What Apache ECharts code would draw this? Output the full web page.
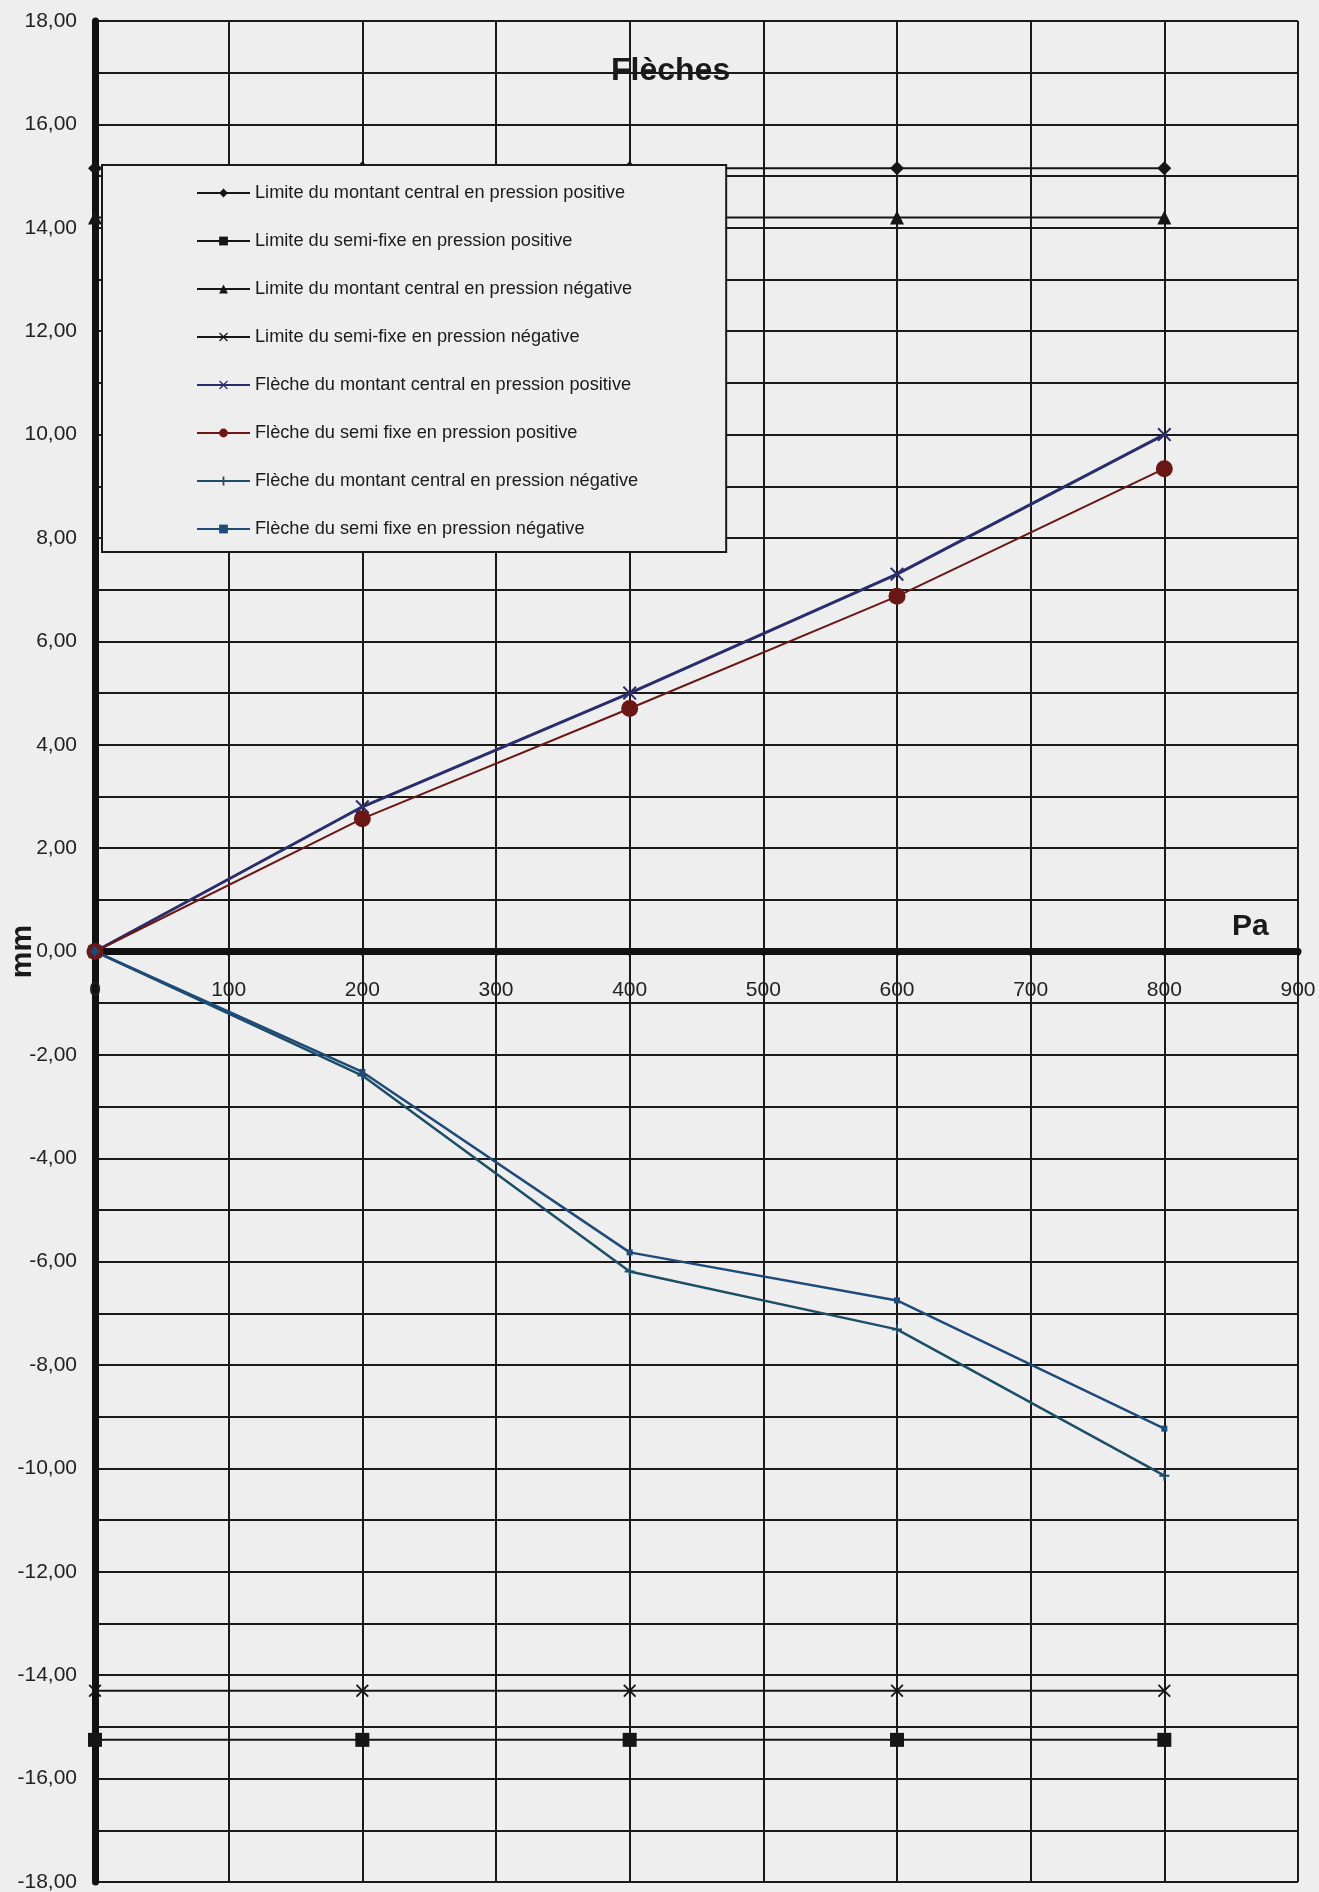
<!DOCTYPE html>
<html>
<head>
<meta charset="utf-8">
<title>Flèches</title>
<script src="https://cdn.jsdelivr.net/npm/echarts@6/dist/echarts.min.js"></script>
<style>
  html, body { margin: 0; padding: 0; background: #eeeeef; }
  #chart { width: 1319px; height: 1892px; }
</style>
</head>
<body>
<div id="chart"></div>
<script>
// pressure (Pa) on x, deflection (mm) on y
const pressures = [0, 200, 400, 600, 800];

const limMontantPos = [15.15, 15.15, 15.15, 15.15, 15.15];
const limSemiPos = [-15.25, -15.25, -15.25, -15.25, -15.25];
const limMontantNeg = [14.2, 14.2, 14.2, 14.2, 14.2];
const limSemiNeg = [-14.3, -14.3, -14.3, -14.3, -14.3];

const flecheMontantPos = [0, 2.8, 5.0, 7.3, 10.0];
const flecheSemiPos = [0, 2.57, 4.7, 6.87, 9.34];
const flecheMontantNeg = [0, -2.4, -6.19, -7.31, -10.14];
const flecheSemiNeg = [0, -2.33, -5.82, -6.75, -9.23];

const seriesNames = [
  "Limite du montant central en pression positive",
  "Limite du semi-fixe en pression positive",
  "Limite du montant central en pression négative",
  "Limite du semi-fixe en pression négative",
  "Flèche du montant central en pression positive",
  "Flèche du semi fixe en pression positive",
  "Flèche du montant central en pression négative",
  "Flèche du semi fixe en pression négative",
];

const FONT = "'Liberation Sans', Arial, sans-serif";
const X_PATH = "path://M0,1 L1,0 L5,4 L9,0 L10,1 L6,5 L10,9 L9,10 L5,6 L1,10 L0,9 L4,5 Z";
const PLUS_PATH = "path://M4,0 H6 V4 H10 V6 H6 V10 H4 V6 H0 V4 H4 Z";

// grid box in px; the x axis sits on the zero line (middle of the y range)
const GRID_TOP = 21;
const GRID_BOTTOM = 10;
const PLOT_H = 1892 - GRID_TOP - GRID_BOTTOM;

const pairs = (ys) => pressures.map((x, i) => [x, ys[i]]);

const makeLine = (name, ys, color, symbol, size, width) => ({
  name: name,
  type: "line",
  data: pairs(ys),
  symbol: symbol,
  symbolSize: size,
  showAllSymbol: true,
  itemStyle: { color: color },
  lineStyle: { color: color, width: width },
  z: 3,
});

const chart = echarts.init(document.getElementById("chart"));

const option = {
  backgroundColor: "#eeeeef",
  animation: false,
  textStyle: { fontFamily: FONT },
  title: {
    text: "Flèches",
    left: 606,
    top: 50,
    textStyle: { fontSize: 32, fontWeight: "bold", color: "#1a1a1a", fontFamily: FONT },
  },
  graphic: [
    {
      type: "text",
      left: 1232,
      top: 912,
      z: 10,
      style: { text: "Pa", fontSize: 30, fontWeight: "bold", fill: "#1a1a1a", fontFamily: FONT },
    },
  ],
  legend: {
    orient: "vertical",
    left: 102,
    top: 165,
    data: seriesNames,
    selectedMode: false,
    itemWidth: 53,
    itemHeight: 11,
    itemGap: 30,
    padding: [19, 88, 14, 94],
    backgroundColor: "#eeeeef",
    borderColor: "#1a1a1a",
    borderWidth: 2,
    borderRadius: 0,
    textStyle: { fontSize: 18.2, color: "#1a1a1a", fontFamily: FONT },
    z: 8,
  },
  grid: {
    left: 95,
    right: 21,
    top: GRID_TOP,
    bottom: GRID_BOTTOM,
    outerBoundsMode: "none",
  },
  xAxis: {
    type: "value",
    min: 0,
    max: 900,
    interval: 100,
    offset: -PLOT_H / 2,
    axisLine: { onZero: false, lineStyle: { color: "#111", width: 7 } },
    axisTick: { show: true, length: 4, lineStyle: { color: "#111", width: 3 } },
    axisLabel: { fontSize: 21, color: "#222", margin: 28, fontFamily: FONT },
    splitLine: { show: true, lineStyle: { color: "#1a1a1a", width: 2 } },
  },
  yAxis: {
    type: "value",
    min: -18,
    max: 18,
    interval: 1,
    name: "mm",
    nameLocation: "middle",
    nameGap: 57,
    nameMoveOverlap: false,
    nameTextStyle: { fontSize: 30, fontWeight: "bold", color: "#1a1a1a", fontFamily: FONT },
    axisLine: { show: true, lineStyle: { color: "#111", width: 7 } },
    axisTick: { show: false },
    axisLabel: {
      fontSize: 21,
      color: "#222",
      margin: 18,
      fontFamily: FONT,
      formatter: (v) => (Math.round(v) % 2 === 0 ? v.toFixed(2).replace(".", ",") : ""),
    },
    splitLine: { show: true, lineStyle: { color: "#1a1a1a", width: 2 } },
  },
  series: [
    makeLine(seriesNames[0], limMontantPos, "#161616", "diamond", 14, 2),
    makeLine(seriesNames[1], limSemiPos, "#161616", "rect", 14, 2),
    makeLine(seriesNames[2], limMontantNeg, "#161616", "triangle", 14, 2),
    makeLine(seriesNames[3], limSemiNeg, "#161616", X_PATH, 13, 2),
    makeLine(seriesNames[4], flecheMontantPos, "#2b2c6c", X_PATH, 14, 3),
    makeLine(seriesNames[5], flecheSemiPos, "#6a1716", "circle", 17, 2),
    makeLine(seriesNames[6], flecheMontantNeg, "#1d4e66", PLUS_PATH, 10, 2.5),
    makeLine(seriesNames[7], flecheSemiNeg, "#1f4b7a", "rect", 6, 2.5),
  ],
};

chart.setOption(option);
</script>
</body>
</html>
